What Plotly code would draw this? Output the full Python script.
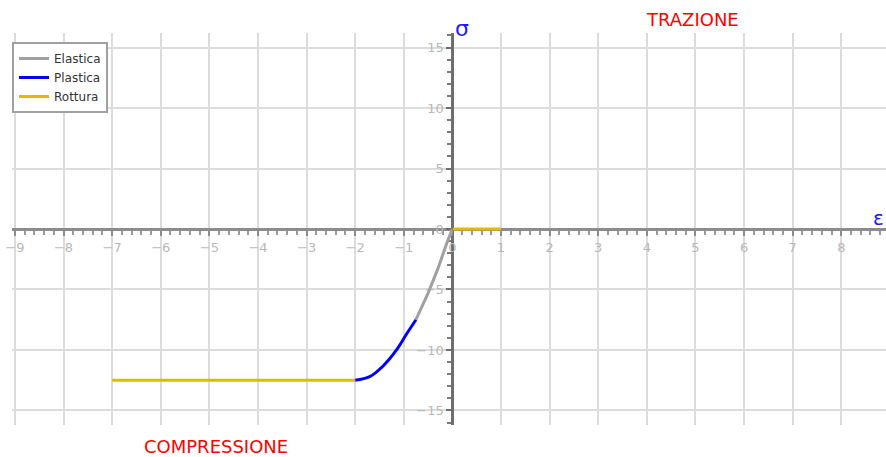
import plotly.graph_objects as go

# --- data ---
elastic_x = [0, -0.1, -0.3, -0.5, -0.75]
elastic_y = [0, -1.0, -3.3, -5.3, -7.5]

plastic_x = [0, 0.03, None, -0.75, -0.94, -1.15, -1.42, -1.70, -2.0]
plastic_y = [0, 0, None, -7.5, -8.66, -10.0, -11.3, -12.2, -12.5]

rupture_x = [-7, -2, None, 0, 1]
rupture_y = [-12.5, -12.5, None, 0, 0]

x_range = [-9.06, 8.92]
y_range = [-16.2, 16.2]
x_ticks = list(range(-9, 9))
y_ticks = [-15, -10, -5, 0, 5, 10, 15]

fig = go.Figure()
fig.add_trace(go.Scatter(x=elastic_x, y=elastic_y, mode="lines", name="Elastica",
                         line=dict(color="#a0a0a0", width=3), connectgaps=False))
fig.add_trace(go.Scatter(x=plastic_x, y=plastic_y, mode="lines", name="Plastica",
                         line=dict(color="#0000ff", width=3, shape="spline"), connectgaps=False))
fig.add_trace(go.Scatter(x=rupture_x, y=rupture_y, mode="lines", name="Rottura",
                         line=dict(color="#e6b800", width=3), connectgaps=False))

x_pos = (0 - x_range[0]) / (x_range[1] - x_range[0])
y_pos = (0 - y_range[0]) / (y_range[1] - y_range[0])

tickfont = dict(family="DejaVu Sans", size=13, color="#b8b8b8")

fig.update_layout(
    width=886, height=457,
    margin=dict(l=12, r=0, t=33, b=32),
    paper_bgcolor="white", plot_bgcolor="white",
    font=dict(family="DejaVu Sans"),
    xaxis=dict(range=x_range, tickvals=x_ticks, showgrid=True, gridcolor="#dcdcdc", gridwidth=2,
               zeroline=False, showline=True, linecolor="#8c8c8c", linewidth=3,
               anchor="free", position=y_pos, side="bottom", layer="below traces",
               ticks="outside", ticklen=5, tickwidth=2, tickcolor="#8c8c8c",
               minor=dict(dtick=0.2, tick0=0, ticks="outside", ticklen=4, tickwidth=2,
                          tickcolor="#9a9a9a", showgrid=False),
               tickfont=tickfont, fixedrange=True),
    yaxis=dict(range=y_range, tickvals=y_ticks, showgrid=True, gridcolor="#dcdcdc", gridwidth=2,
               zeroline=False, showline=True, linecolor="#6e6e6e", linewidth=3,
               anchor="free", position=x_pos, side="left", layer="below traces",
               ticks="outside", ticklen=5, tickwidth=2, tickcolor="#6e6e6e",
               minor=dict(dtick=1, tick0=0, ticks="outside", ticklen=4, tickwidth=2,
                          tickcolor="#7a7a7a", showgrid=False),
               tickfont=tickfont, fixedrange=True),
    legend=dict(x=0.0, y=0.977, xanchor="left", yanchor="top",
                bgcolor="white", bordercolor="#a0a0a0", borderwidth=2,
                font=dict(family="DejaVu Sans", size=12, color="#333333"),
                itemwidth=30, tracegroupgap=0),
    showlegend=True,
)

fig.add_annotation(x=0, y=(425 - 28) / 392, xref="x", yref="paper", text="σ",
                   showarrow=False, xanchor="left", yanchor="middle", xshift=1,
                   font=dict(family="DejaVu Sans", size=22, color="#1a1aff"))
fig.add_annotation(x=1.0, y=0.9, xref="paper", yref="y", text="ε",
                   showarrow=False, xanchor="right", yanchor="middle",
                   font=dict(family="DejaVu Sans", size=20, color="#1a1aff"))
fig.add_annotation(x=(692 - 12) / 874, y=(425 - 20) / 392, xref="paper", yref="paper",
                   text="TRAZIONE", showarrow=False, xanchor="center", yanchor="middle",
                   borderpad=0,
                   font=dict(family="DejaVu Sans", size=18, color="#ff0000"))
fig.add_annotation(x=(216 - 12) / 874, y=(425 - 446) / 392, xref="paper", yref="paper",
                   text="COMPRESSIONE", showarrow=False, xanchor="center", yanchor="middle",
                   borderpad=0,
                   font=dict(family="DejaVu Sans", size=18, color="#ff0000"))

fig.write_html("out.html", config={"displayModeBar": False},
               post_script="document.body.style.margin='0';")
